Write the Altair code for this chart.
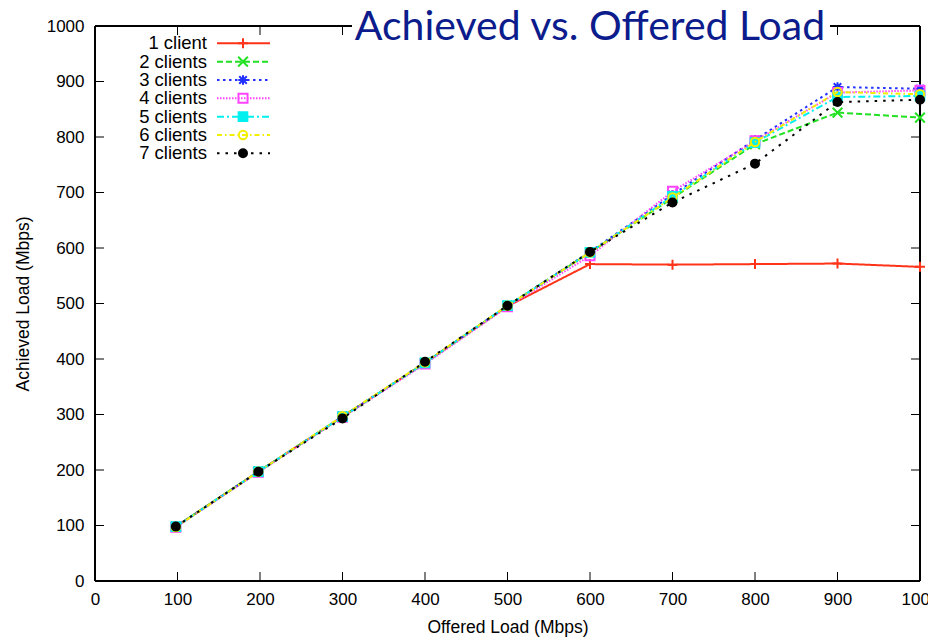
import altair as alt
import pandas as pd

# ---------------- data ----------------
offered = [98, 198, 300, 400, 500, 600, 700, 800, 900, 1000]
series_names = ["1 client", "2 clients", "3 clients", "4 clients",
                "5 clients", "6 clients", "7 clients"]
client1 = [98, 197, 296, 393, 495, 571, 570, 571, 572, 566]
client2 = [98, 197, 296, 393, 496, 592, 690, 787, 844, 835]
client3 = [98, 197, 296, 393, 496, 593, 696, 795, 890, 887]
client4 = [97, 196, 295, 391, 494, 586, 702, 793, 880, 884]
client5 = [98, 197, 296, 393, 496, 592, 693, 790, 872, 874]
client6 = [97, 197, 297, 394, 496, 592, 691, 791, 881, 877]
client7 = [98, 197, 293, 395, 496, 593, 682, 752, 863, 867]
x_ticks = [0, 100, 200, 300, 400, 500, 600, 700, 800, 900, 1000]
y_ticks = [0, 100, 200, 300, 400, 500, 600, 700, 800, 900, 1000]

all_series = [client1, client2, client3, client4, client5, client6, client7]

# ---------------- styles ----------------
line_colors = ["#ff3318", "#22e022", "#2030ff", "#ff44ff", "#00f0f0", "#f2ee00", "#000000"]
fill_colors = ["transparent", "transparent", "transparent", "transparent",
               "#00f0f0", "transparent", "#000000"]
dashes = [[1, 0], [6, 3], [2.5, 3.5], [1.5, 1.5], [7, 3, 2, 3], [5, 3, 1.5, 3], [2.5, 6]]
shapes = ["M-1,0L1,0M0,-1L0,1",
          "M-1,-1L1,1M-1,1L1,-1",
          "M-1,0L1,0M0,-1L0,1M-0.8,-0.8L0.8,0.8M-0.8,0.8L0.8,-0.8",
          "square", "square", "circle", "circle"]
sizes = [100, 64, 64, 90, 56, 80, 64]

W, H = 825, 555
FONT = "Liberation Sans"

rows = []
for name, vals in zip(series_names, all_series):
    for xv, yv in zip(offered, vals):
        rows.append({"series": name, "x": xv, "y": yv})
df = pd.DataFrame(rows)

legend_df = pd.DataFrame({"series": series_names, "row": list(range(len(series_names)))})
xt_df = pd.DataFrame({"x": x_ticks})
yt_df = pd.DataFrame({"y": y_ticks})

x_axis = alt.Axis(values=x_ticks, format="d", ticks=False, domain=False, grid=False,
                  labelFlush=False, labelPadding=10, title="Offered Load (Mbps)", titlePadding=11)
y_axis = alt.Axis(values=y_ticks, format="d", ticks=False, domain=False, grid=False,
                  labelFlush=False, labelPadding=11, title="Achieved Load (Mbps)", titlePadding=14)


def X():
    return alt.X("x:Q", scale=alt.Scale(domain=[0, 1000], nice=False, zero=True), axis=x_axis)


def Y():
    return alt.Y("y:Q", scale=alt.Scale(domain=[0, 1000], nice=False, zero=True), axis=y_axis)


stroke_enc = alt.Stroke("series:N", scale=alt.Scale(domain=series_names, range=line_colors), legend=None)
fill_enc = alt.Fill("series:N", scale=alt.Scale(domain=series_names, range=fill_colors), legend=None)
dash_enc = alt.StrokeDash("series:N", scale=alt.Scale(domain=series_names, range=dashes), legend=None)
shape_enc = alt.Shape("series:N", scale=alt.Scale(domain=series_names, range=shapes), legend=None)
size_enc = alt.Size("series:N", scale=alt.Scale(domain=series_names, range=sizes), legend=None)

# frame
frame = [
    alt.Chart(xt_df).mark_rule(color="black", strokeWidth=1.5).encode(
        x=alt.value(0), x2=alt.value(0), y=alt.value(0), y2=alt.value(H)),
    alt.Chart(xt_df).mark_rule(color="black", strokeWidth=1.5).encode(
        x=alt.value(W), x2=alt.value(W), y=alt.value(0), y2=alt.value(H)),
    alt.Chart(xt_df).mark_rule(color="black", strokeWidth=1.5).encode(
        x=alt.value(0), x2=alt.value(W), y=alt.value(H), y2=alt.value(H)),
    alt.Chart(xt_df).mark_rule(color="black", strokeWidth=1.5).encode(
        x=alt.value(0), x2=alt.value(W), y=alt.value(0), y2=alt.value(0)),
]

# inward ticks on all four sides
TL = 9
ticks = [
    alt.Chart(xt_df).mark_rule(color="black", strokeWidth=1).encode(
        x=X(), y=alt.value(H), y2=alt.value(H - TL)),
    alt.Chart(xt_df).mark_rule(color="black", strokeWidth=1).encode(
        x=X(), y=alt.value(0), y2=alt.value(TL)),
    alt.Chart(yt_df).mark_rule(color="black", strokeWidth=1).encode(
        y=Y(), x=alt.value(0), x2=alt.value(TL)),
    alt.Chart(yt_df).mark_rule(color="black", strokeWidth=1).encode(
        y=Y(), x=alt.value(W - TL), x2=alt.value(W)),
]

data_layers = []
for name in series_names:
    sub = alt.Chart(df).transform_filter(alt.FieldEqualPredicate(field="series", equal=name))
    data_layers.append(sub.mark_line(strokeWidth=2).encode(
        x=X(), y=Y(), stroke=stroke_enc, strokeDash=dash_enc))
    data_layers.append(sub.mark_point(strokeWidth=2, opacity=1, filled=False).encode(
        x=X(), y=Y(), stroke=stroke_enc, fill=fill_enc, shape=shape_enc, size=size_enc))

title_bg = alt.Chart(xt_df).mark_rect(color="white").encode(
    x=alt.value(257), x2=alt.value(735), y=alt.value(-26), y2=alt.value(12))
title_txt = alt.Chart(xt_df).transform_aggregate(n="count()").mark_text(
    text="Achieved vs. Offered Load", font="Lato", fontSize=41,
    color="#0c1c8c", align="center", baseline="alphabetic").encode(
    x=alt.value(495), y=alt.value(14))

main = alt.layer(*frame, *ticks, *data_layers, title_bg, title_txt)

# manual legend (text left, sample right, as in gnuplot)
ly = alt.Y("row:Q", scale=alt.Scale(domain=[0, 6], range=[17.3, 127.3]), axis=None)
leg_text = alt.Chart(legend_df).mark_text(
    font=FONT, fontSize=18.5, align="right", baseline="middle", color="black").encode(
    x=alt.value(112), y=ly, text="series:N")
leg_line = alt.Chart(legend_df).mark_rule(strokeWidth=2).encode(
    x=alt.value(122), x2=alt.value(175), y=ly, stroke=stroke_enc, strokeDash=dash_enc)
leg_pt = alt.Chart(legend_df).mark_point(strokeWidth=2, opacity=1, filled=False).encode(
    x=alt.value(148), y=ly, stroke=stroke_enc, fill=fill_enc, shape=shape_enc, size=size_enc)
legend = alt.layer(leg_line, leg_pt, leg_text)

chart = alt.layer(main, legend).resolve_scale(y="independent").properties(
    width=W, height=H,
    background="white",
    autosize=alt.AutoSizeParams(type="none"),
    padding={"left": 95, "top": 26, "right": 8, "bottom": 58},
).configure_view(stroke=None).configure_axis(
    labelFont=FONT, labelFontSize=17, labelColor="black",
    titleFont=FONT, titleFontSize=17.5, titleFontWeight="normal", titleColor="black",
)

chart.save("out.html", embed_options={"renderer": "svg", "actions": False})
